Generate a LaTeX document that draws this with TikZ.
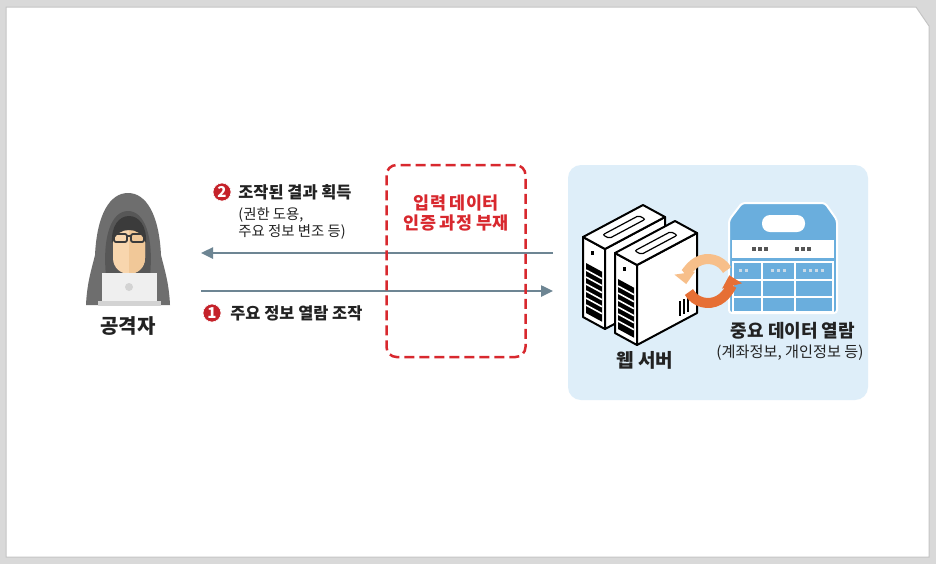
\documentclass[tikz,border=0pt]{standalone}
\usepackage{fontspec}
\setmainfont{Noto Sans CJK KR}
\usetikzlibrary{arrows.meta,positioning}
\definecolor{bggray}{HTML}{D9D9D9}
\definecolor{panelline}{HTML}{C4C4C4}
\definecolor{ink}{HTML}{222222}
\definecolor{flowgray}{HTML}{6D8593}
\definecolor{badgered}{HTML}{C5222A}
\definecolor{alertred}{HTML}{D8282E}
\definecolor{zonefill}{HTML}{DEEEF9}
\definecolor{datablue}{HTML}{6AAEDD}
\definecolor{dotgray}{HTML}{555555}
\definecolor{celldot}{HTML}{C9DAE8}
\definecolor{lightorange}{HTML}{F7BF8A}
\definecolor{darkorange}{HTML}{E66F35}
\definecolor{hood}{HTML}{6E6E6E}
\definecolor{hoodin}{HTML}{575757}
\definecolor{skin}{HTML}{F8D6AE}
\definecolor{skindark}{HTML}{F1C898}
\definecolor{hair}{HTML}{3B3B3B}
\definecolor{laptop}{HTML}{EFEFEF}
\definecolor{laptopbase}{HTML}{D3D3D3}

\begin{document}
\begin{tikzpicture}[x=0.5pt,y=-0.5pt,
    flow/.style={draw=flowgray, line width=1.25pt, -{Triangle[length=6pt,width=5.5pt]}},
    badge/.style={circle, fill=badgered, draw=white, line width=0.3pt, text=white,
      font=\bfseries\fontsize{7.5}{7.5}\selectfont, inner sep=0pt, minimum size=9pt},
    headline/.style={anchor=west, text=ink, font=\bfseries\fontsize{8.2}{10}\selectfont, inner sep=0pt},
    note/.style={text=ink, font=\fontsize{7.2}{8.5}\selectfont, inner sep=0pt, align=left},
    title/.style={text=ink, font=\bfseries\fontsize{9.5}{11}\selectfont, inner sep=0pt},
    gapbox/.style={draw=alertred, line width=1.25pt, dash pattern=on 5pt off 2.5pt,
      rounded corners=5pt, minimum width=69.5pt, minimum height=96pt},
    gaptext/.style={text=alertred, font=\bfseries\fontsize{8.7}{10}\selectfont, align=center, inner sep=0pt},
    server/.style={fill=white, draw=black, line width=1pt, line join=round},
    turn/.style={line width=5pt, -{Triangle[length=5.5pt,width=10pt]}}
  ]
  \useasboundingbox (0,0) rectangle (936,564);
  \fill[bggray] (0,0) rectangle (936,564);
  \filldraw[fill=white, draw=panelline, line width=0.5pt]
    (6,7) -- (916,7) -- (929,26) -- (929,557) -- (6,557) -- cycle;

  % attacker
  \fill[hood] (86,305) .. controls (87,282) and (92,268) .. (95,255)
    .. controls (97,214) and (110,193) .. (128,193)
    .. controls (146,193) and (159,214) .. (161,255)
    .. controls (164,268) and (169,282) .. (170,305) -- cycle;
  \fill[hoodin] (106,276) .. controls (102,235) and (112,211) .. (128,211)
    .. controls (144,211) and (154,235) .. (150,276) -- cycle;
  \fill[skin] (113,240) .. controls (113,225) and (120,219) .. (129,219)
    .. controls (138,219) and (145,225) .. (145,240) -- (145,258)
    .. controls (145,268) and (137,274) .. (129,274)
    .. controls (121,274) and (113,268) .. (113,258) -- cycle;
  \fill[skindark] (129,219) .. controls (138,219) and (145,225) .. (145,240) -- (145,258)
    .. controls (145,268) and (137,274) .. (129,274) -- cycle;
  \fill[hair] (112,243) .. controls (111,226) and (119,216) .. (129,216)
    .. controls (139,216) and (147,226) .. (146,243)
    .. controls (142,233) and (136,230) .. (129,230)
    .. controls (122,230) and (116,233) .. (112,243) -- cycle;
  \draw[hair, line width=0.9pt, rounded corners=1pt]
    (114,234) rectangle (127,242) (131,234) rectangle (144,242) (127,236) -- (131,236);
  \fill[laptop] (102,273) rectangle (157,303);
  \fill[laptopbase] (98,301) rectangle (161,306);
  \fill[laptopbase] (129,287) circle (4);
  \node[title, font=\bfseries\fontsize{10}{12}\selectfont] (attacker) at (128,326) {공격자};

  % web server zone
  \fill[zonefill, rounded corners=6.5pt] (568,165) rectangle (868,400);

  % requests
  \coordinate (attR1) at (201,291);
  \coordinate (srvL1) at (553,291);
  \coordinate (srvL2) at (553,253);
  \coordinate (attR2) at (201,253);
  \draw[flow] (attR1) -- (srvL1);
  \draw[flow] (srvL2) -- (attR2);

  \node[gapbox] (gap) at (456,261) {};
  \node[gaptext] (gaplabel) at (456,213) {입력 데이터\\인증 과정 부재};

  \node[badge] (b2) at (222,192) {2};
  \node[headline] (result) at (238,192) {조작된 결과 획득};
  \node[note, anchor=north west] (resultnote) at (238,207) {(권한 도용,\\주요 정보 변조 등)};
  \node[badge] (b1) at (212,313) {1};
  \node[headline] (request) at (230,313) {주요 정보 열람 조작};

  % servers
  \foreach \ox/\oy in {583/237, 615/253} {
    \filldraw[server] (\ox,\oy) -- ++(22,12) -- ++(0,80) -- ++(-22,-12) -- cycle;
    \filldraw[server] (\ox+22,\oy+12) -- ++(60,-32) -- ++(0,80) -- ++(-60,32) -- cycle;
    \filldraw[server] (\ox,\oy) -- ++(22,12) -- ++(60,-32) -- ++(-22,-12) -- cycle;
    \draw[line width=0.6pt, rounded corners=1pt]
      (\ox+19.7,\oy-2.2) -- ++(36,-19.2) -- ++(6.6,3.6) -- ++(-36,19.2) -- cycle;
    \fill (\ox+8,\oy+14) rectangle ++(3,4);
    \fill (\ox+3,\oy+26) -- ++(16,8.7) -- ++(0,50) -- ++(-16,-8.7) -- cycle;
    \foreach \k in {1,...,6}
      \draw[white, line width=0.8pt] (\ox+3,\oy+26+7*\k) -- ++(16,8.7);
  }
  \draw[line width=0.8pt] (680,301) -- ++(0,15) (684,299) -- ++(0,15) (688,297) -- ++(0,15);
  \node[title] (server) at (645,360) {웹 서버};

  % data
  \filldraw[fill=datablue, draw=white, line width=1pt, rounded corners=1.5pt]
    (742,203) -- (825,203) -- (837,220) -- (837,313) -- (729,313) -- (729,220) -- cycle;
  \fill[white, rounded corners=4pt] (762,215) rectangle (805,232);
  \fill[white] (732,240) rectangle (834,258);
  \draw[white, line width=0.8pt] (733,262) rectangle (833,312)
    (733,280) -- (833,280) (733,297) -- (833,297)
    (762,262) -- (762,312) (795,262) -- (795,312);
  \foreach \sx in {752,758,764,795,801,807}
    \fill[dotgray] (\sx,247) rectangle ++(3.5,3.5);
  \foreach \sx in {739,745,771,777,783,803,809,815,821}
    \fill[celldot] (\sx,269) rectangle ++(3,3);
  \node[title, font=\bfseries\fontsize{9}{11}\selectfont] (data) at (793,331) {중요 데이터 열람};
  \node[note, align=center, font=\fontsize{7.6}{9}\selectfont] (datanote) at (790,353) {(계좌정보, 개인정보 등)};

  \draw[turn, draw=lightorange] (708,281) ++(-30:22) arc[start angle=-30, end angle=-188, radius=22];
  \draw[turn, draw=darkorange] (708,281) ++(150:22) arc[start angle=150, end angle=-15, radius=22];
\end{tikzpicture}
\end{document}
